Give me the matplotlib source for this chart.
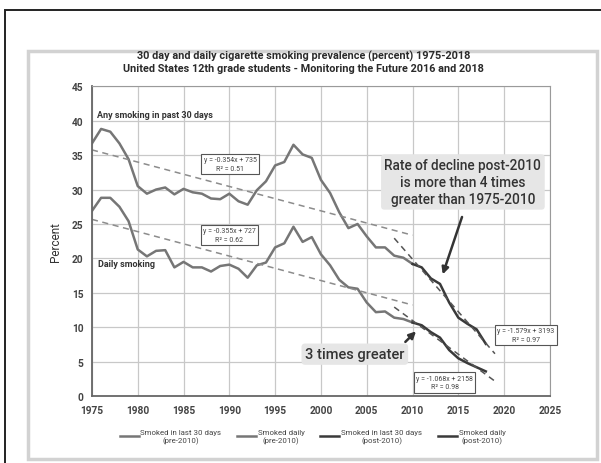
import numpy as np
import matplotlib.pyplot as plt
from matplotlib.patches import Rectangle

plt.rcParams['font.family'] = ['Roboto', 'DejaVu Sans']

# Monitoring the Future, 12th grade, percent
years = list(range(1975, 2019))
past_30_days = [36.7, 38.8, 38.4, 36.7, 34.4, 30.5, 29.4, 30.0, 30.3, 29.3,
                30.1, 29.6, 29.4, 28.7, 28.6, 29.4, 28.3, 27.8, 29.9, 31.2,
                33.5, 34.0, 36.5, 35.1, 34.6, 31.4, 29.5, 26.7, 24.4, 25.0,
                23.2, 21.6, 21.6, 20.4, 20.1, 19.2, 18.7, 17.1, 16.3, 13.6,
                11.4, 10.5, 9.7, 7.6]
daily = [26.9, 28.8, 28.8, 27.5, 25.4, 21.3, 20.3, 21.1, 21.2, 18.7,
         19.5, 18.7, 18.7, 18.1, 18.9, 19.1, 18.5, 17.2, 19.0, 19.4,
         21.6, 22.2, 24.6, 22.4, 23.1, 20.6, 19.0, 16.9, 15.8, 15.6,
         13.6, 12.2, 12.3, 11.4, 11.2, 10.7, 10.3, 9.3, 8.5, 6.7,
         5.5, 4.8, 4.2, 3.6]

trend_labels = ["y = -0.354x + 735\nR² = 0.51", "y = -0.355x + 727\nR² = 0.62",
                "y = -1.579x + 3193\nR² = 0.97", "y = -1.068x + 2158\nR² = 0.98"]
legend_labels = ["Smoked in last 30 days\n(pre-2010)", "Smoked daily\n(pre-2010)",
                 "Smoked in last 30 days\n(post-2010)", "Smoked daily\n(post-2010)"]

yrs = np.array(years)
m30 = np.array(past_30_days)
md = np.array(daily)
pre = yrs <= 2010
post = yrs >= 2010

fig = plt.figure(figsize=(6.01, 4.64), dpi=100)
ax = fig.add_axes([0.153, 0.144, 0.762, 0.668])

light = '#767676'
dark = '#3a3a3a'
ax.plot(yrs[pre], m30[pre], color=light, lw=1.8, label=legend_labels[0])
ax.plot(yrs[pre], md[pre], color=light, lw=1.8, label=legend_labels[1])
ax.plot(yrs[post], m30[post], color=dark, lw=1.8, label=legend_labels[2])
ax.plot(yrs[post], md[post], color=dark, lw=1.8, label=legend_labels[3])

# linear trend lines
for series in (m30, md):
    k, b = np.polyfit(yrs[pre], series[pre], 1)
    xs = np.array([1975, 2010])
    ax.plot(xs, k * xs + b, color='#8c8c8c', lw=1.1, ls=(0, (4, 3)))
    k, b = np.polyfit(yrs[post], series[post], 1)
    xs = np.array([2008, 2019])
    ax.plot(xs, k * xs + b, color='#555555', lw=1.1, ls=(0, (4, 3)))

box = dict(boxstyle='square,pad=0.35', facecolor='white', edgecolor='#555555', lw=0.8)
for (x, y), t in zip([(1990.1, 33.7), (1990.0, 23.4), (2022.4, 8.85), (2013.5, 2.0)], trend_labels):
    ax.text(x, y, t, fontsize=5, ha='center', va='center', color='#444444',
            bbox=box, linespacing=1.3)

ax.text(1975.6, 40.9, "Any smoking in past 30 days", fontsize=6.5, fontweight='bold',
        color='#333333', va='center')
ax.text(1975.7, 19.2, "Daily smoking", fontsize=6.5, fontweight='bold',
        color='#333333', va='center')

halo = dict(boxstyle='round,pad=0.25', facecolor='#e6e6e6', edgecolor='none')
ax.text(2015.5, 31.1, "Rate of decline post-2010\nis more than 4 times\ngreater than 1975-2010",
        fontsize=9.8, ha='center', va='center', color='#333333', bbox=halo,
        linespacing=1.3, fontweight='medium')
ax.annotate("", xy=(2013.2, 17.3), xytext=(2015.5, 26.4),
            arrowprops=dict(arrowstyle='-|>', color='#333333', lw=1.8, mutation_scale=10))
ax.text(2003.7, 6.1, "3 times greater", fontsize=10.5, ha='center', va='center',
        color='#333333', bbox=halo, fontweight='medium')
ax.annotate("", xy=(2010.6, 9.7), xytext=(2009.0, 7.6),
            arrowprops=dict(arrowstyle='-|>', color='#333333', lw=1.8, mutation_scale=10))

ax.set_xlim(1975, 2025)
ax.set_ylim(0, 45)
ax.set_xticks(range(1975, 2026, 5))
ax.set_yticks(range(0, 46, 5))
ax.grid(True, color='#c8c8c8', lw=0.9)
ax.set_axisbelow(True)
for side in ('top', 'right'):
    ax.spines[side].set_color('#9a9a9a')
for side in ('left', 'bottom'):
    ax.spines[side].set_color('#666666')
    ax.spines[side].set_linewidth(1.3)
ax.tick_params(length=0, labelsize=7.3, labelcolor='#444444', pad=6)
for lab in ax.get_xticklabels() + ax.get_yticklabels():
    lab.set_fontweight('bold')
ax.set_ylabel("Percent", fontsize=8.5, color='#333333', labelpad=7)

fig.text(0.505, 0.866, "30 day and daily cigarette smoking prevalence (percent) 1975-2018\n"
         "United States 12th grade students - Monitoring the Future 2016 and 2018",
         ha='center', va='center', fontsize=7.8, fontweight='bold', color='#2a2a2a',
         linespacing=1.3)

leg = fig.legend(loc='center', bbox_to_anchor=(0.52, 0.058), ncol=4, frameon=False,
                 fontsize=5.7, handlelength=2.4, handletextpad=0.2, columnspacing=2.0,
                 labelcolor='#444444')
for t in leg.get_texts():
    t.set_multialignment('center')

# scanned page frames
fig.add_artist(Rectangle((0.047, 0.008), 0.947, 0.88, transform=fig.transFigure,
                         fill=False, edgecolor='#d2d2d2', lw=2.5))
fig.add_artist(Rectangle((0.009, -0.01), 1.0, 0.987, transform=fig.transFigure,
                         fill=False, edgecolor='#222222', lw=1.4))

fig.savefig("out.png", dpi=100)
